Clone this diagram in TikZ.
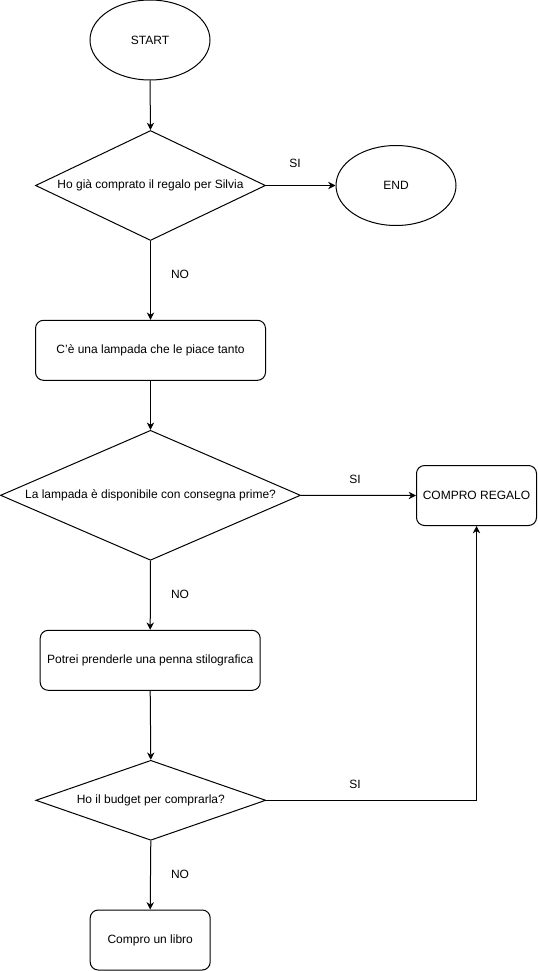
\documentclass[tikz,border=0pt]{standalone}
\usepackage{fontspec}
\setmainfont{Liberation Sans}
\usetikzlibrary{shapes.geometric,arrows.meta}
\begin{document}
\begin{tikzpicture}[x=0.75pt,y=-0.75pt,
  every node/.style={font=\fontsize{9}{11}\selectfont},
  base/.style={draw,line width=0.75pt,inner sep=0pt},
  term/.style={base,ellipse,minimum width=90pt,minimum height=60pt},
  proc/.style={base,rectangle,rounded corners=6pt,minimum height=45pt},
  dec/.style={base,diamond},
  lbl/.style={inner sep=1pt},
  conn/.style={line width=0.75pt,-{Stealth[length=5.5pt,width=5.5pt,inset=1.8pt]}},
  plain/.style={line width=0.75pt}
]
\useasboundingbox (0,0) rectangle (537,971);

\node[term] (start) at (150,40) {START};
\node[dec,minimum width=172.5pt,minimum height=82.5pt,label={center:Ho già comprato il regalo per Silvia}] (d1) at (150.5,185.5) {};
\node[term] (endn) at (396,185.5) {END};
\node[proc,minimum width=172.5pt] (b1) at (150.5,350.3) {C'è una lampada che le piace tanto};
\node[dec,minimum width=225pt,minimum height=97.5pt,label={center:La lampada è disponibile con consegna prime?}] (d2) at (150.5,495.3) {};
\node[proc,minimum width=90pt] (compro) at (476.5,495.5) {COMPRO REGALO};
\node[proc,minimum width=165pt] (b2) at (150.2,660.3) {Potrei prenderle una penna stilografica};
\node[dec,minimum width=172.5pt,minimum height=60pt,label={center:Ho il budget per comprarla?}] (d3) at (150.8,800.3) {};
\node[proc,minimum width=90pt] (b3) at (150.2,940) {Compro un libro};

\node[lbl] (si1) at (295,163) {SI};
\node[lbl] (no1) at (180,274) {NO};
\node[lbl] (si2) at (355,479) {SI};
\node[lbl] (no2) at (180,594) {NO};
\node[lbl] (si3) at (355,784) {SI};
\node[lbl] (no3) at (180,874) {NO};

\draw[conn] (start.south) -- (d1.north);
\draw[conn] (d1.east) -- (endn.west);
\draw[conn] (d1.south) -- (b1.north);
\draw[conn] (b1.south) -- (d2.north);
\draw[conn] (d2.east) -- (compro.west);
\draw[conn] (d2.south) -- (b2.north);
\draw[conn] (b2.south) -- (d3.north);
\draw[conn] (d3.east) -| (compro.south);
\draw[conn] (d3.south) -- (b3.north);
\end{tikzpicture}
\end{document}
